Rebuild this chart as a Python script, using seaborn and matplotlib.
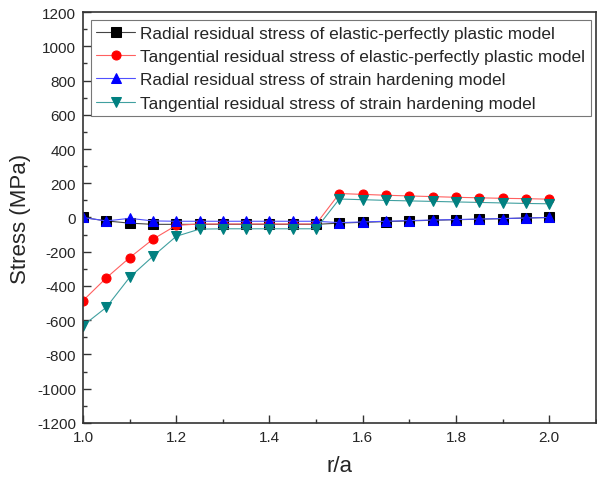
import numpy as np
import pandas as pd
import matplotlib
matplotlib.use("Agg")
import matplotlib.pyplot as plt
from matplotlib.ticker import MultipleLocator
import seaborn as sns

# Normalised radius r/a
r_a = [1.00, 1.05, 1.10, 1.15, 1.20, 1.25, 1.30, 1.35, 1.40, 1.45, 1.50,
       1.55, 1.60, 1.65, 1.70, 1.75, 1.80, 1.85, 1.90, 1.95, 2.00]

# Residual stresses (MPa)
radial_epp = [0, -20, -33, -40, -40, -40, -40, -40, -40, -40, -40,
              -33, -28, -24, -20, -16, -13, -10, -7, -3, 0]
tangential_epp = [-486, -353, -235, -127, -46, -38, -38, -38, -38, -38, -38,
                  140, 135, 130, 126, 122, 118, 115, 112, 110, 107]
radial_sh = [0, -20, -5, -20, -22, -22, -22, -22, -22, -22, -22,
             -30, -26, -22, -18, -15, -12, -9, -6, -3, 0]
tangential_sh = [-632, -525, -350, -227, -110, -68, -66, -66, -66, -66, -66,
                 108, 104, 100, 97, 94, 91, 88, 85, 82, 80]

labels = [
    "Radial residual stress of elastic-perfectly plastic model",
    "Tangential residual stress of elastic-perfectly plastic model",
    "Radial residual stress of strain hardening model",
    "Tangential residual stress of strain hardening model",
]
series = [radial_epp, tangential_epp, radial_sh, tangential_sh]
colors = ["#000000", "#ff0000", "#0000ff", "#008080"]
line_colors = ["#444444", "#ff6060", "#5050ff", "#40a0a0"]
markers = ["s", "o", "^", "v"]

sns.set_style("white")
plt.rcParams["font.family"] = ["Liberation Sans", "DejaVu Sans"]
plt.rcParams["axes.unicode_minus"] = False

fig = plt.figure(figsize=(5.97, 4.85), dpi=100)
ax = fig.add_axes([0.139, 0.126, 0.859, 0.847])

for lab, vals, c, lc, m in zip(labels, series, colors, line_colors, markers):
    df = pd.DataFrame({"r/a": r_a, "stress": vals})
    sns.lineplot(data=df, x="r/a", y="stress", ax=ax, label=lab,
                 color=lc, linewidth=0.8, marker=m, markersize=6.5,
                 markerfacecolor=c, markeredgecolor=c)

ax.set_xlim(1.0, 2.1)
ax.set_ylim(-1200, 1200)
ax.xaxis.set_minor_locator(MultipleLocator(0.1))
ax.yaxis.set_major_locator(MultipleLocator(200))
ax.yaxis.set_minor_locator(MultipleLocator(100))
ax.set_xticks([1.0, 1.2, 1.4, 1.6, 1.8, 2.0])
ax.set_xticklabels(["1.0", "1.2", "1.4", "1.6", "1.8", "2.0"])
ax.tick_params(which="major", direction="in", length=6, width=1,
               labelsize=11, color="#333333", pad=5)
ax.tick_params(which="minor", direction="in", length=3, width=1,
               color="#333333")
ax.tick_params(axis="both", which="both", bottom=True, left=True)

for s in ax.spines.values():
    s.set_color("#333333")
    s.set_linewidth(1.2)

ax.set_xlabel("r/a", fontsize=16, labelpad=8)
ax.set_ylabel("Stress (MPa)", fontsize=16, labelpad=4)

leg = ax.legend(loc="upper left", bbox_to_anchor=(0.008, 0.988), fontsize=12.4,
                frameon=True, fancybox=False, edgecolor="#555555",
                handlelength=2.3, handletextpad=0.3, labelspacing=0.48,
                borderpad=0.3, borderaxespad=0.2)
leg.get_frame().set_linewidth(0.8)

fig.savefig("out.png", dpi=100)
